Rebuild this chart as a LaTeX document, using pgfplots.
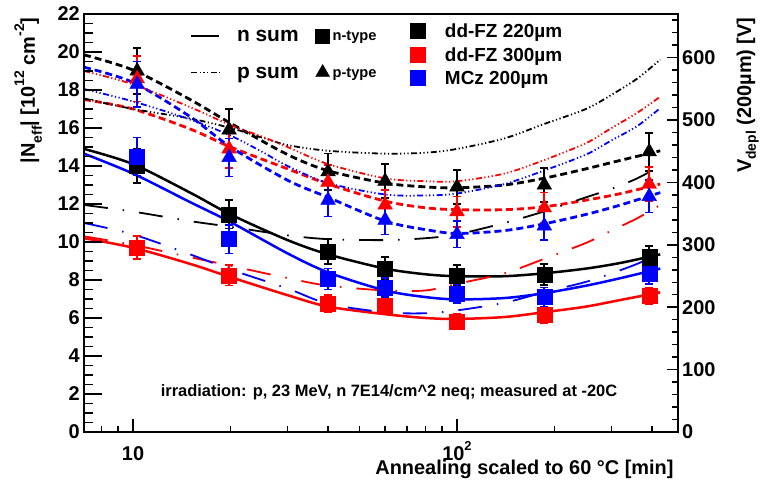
\documentclass[border=0pt]{standalone}
\usepackage{fontspec}
\setmainfont{Liberation Sans}
\usepackage{pgfplots}
\pgfplotsset{compat=1.18}
\newcommand{\sz}[1]{\fontsize{#1}{#1}\selectfont}
\definecolor{rred}{RGB}{255,0,0}
\definecolor{rblue}{RGB}{0,0,255}
\pgfplotsset{
 mynfit/.style={line width=2.5bp, smooth, forget plot},
 mypfit/.style={line width=2.8bp, smooth, forget plot, dash pattern=on 7bp off 4bp},
 mynsum/.style={line width=1.8bp, smooth, forget plot, dash pattern=on 24bp off 15bp on 1.5bp off 15bp},
 mypsum/.style={line width=1.8bp, smooth, forget plot, dash pattern=on 6bp off 2.5bp on 1.2bp off 2.5bp on 1.2bp off 2.5bp on 1.2bp off 2.5bp},
 mydat/.style={only marks, forget plot, mark options={solid},
   error bars/y dir=both, error bars/y explicit,
   error bars/error bar style={line width=1.8bp, solid},
   error bars/error mark options={rotate=90, mark size=4bp, line width=1.6bp}},
 mysq/.style={mark=square*, mark size=7.5bp},
 mytr/.style={mark=triangle*, mark size=8.5bp},
}
\begin{document}
\begin{tikzpicture}
\useasboundingbox (-84bp,-59bp) rectangle (677bp,432bp);
% ---------------- main axis with data ----------------
\begin{axis}[scale only axis, width=594bp, height=418bp, at={(0,0)}, anchor=south west,
  xmode=log, xmin=7.06, xmax=481,
  tick label style={font=\sz{20}\bfseries},
  axis line style={line width=1.6bp}, tick style={line width=1.5bp, black},
  ymin=0, ymax=22, ytick=\empty,
  xtick={10,100}, xticklabels={10,{10\raisebox{0.5em}{\sz{13}2}}},
  minor xtick={8,9,20,30,40,50,60,70,80,90,200,300,400},
  xtick pos=left, tick align=inside,
  major tick length=12.5bp, minor tick length=6.5bp,
  xticklabel style={inner sep=0pt, text height=14.3bp, anchor=north, yshift=-14bp},
  xlabel={Annealing scaled to 60 °C [min]},
  xlabel style={at={(axis description cs:0.9983,-0.1005)}, anchor=base east, font=\sz{20}\bfseries},
]
% n-type fits (solid)
\addplot[mynfit, black] coordinates {(7.06,14.9) (10,14.1) (15,12.6) (20,11.45) (30,10.1) (40,9.35) (60,8.6) (80,8.3) (100,8.2) (140,8.2) (185,8.35) (250,8.6) (320,8.9) (424,9.35)};
\addplot[mynfit, rred] coordinates {(7.06,10.2) (10,9.7) (15,8.85) (20,8.15) (30,7.2) (40,6.6) (60,6.2) (80,6.0) (100,5.95) (140,6.05) (185,6.3) (250,6.6) (320,6.95) (424,7.35)};
\addplot[mynfit, rblue] coordinates {(7.06,14.65) (10,13.6) (15,12.1) (20,11.05) (30,9.4) (40,8.4) (60,7.45) (80,7.1) (100,6.98) (140,7.05) (185,7.3) (250,7.7) (320,8.1) (424,8.6)};
% p-type fits (dashed)
\addplot[mypfit, black] coordinates {(7.06,19.85) (10,19.05) (15,17.5) (20,16.25) (30,14.6) (40,13.75) (60,13.1) (80,12.9) (100,12.85) (140,13.0) (185,13.35) (250,13.85) (320,14.3) (424,14.8)};
\addplot[mypfit, rred] coordinates {(7.06,17.5) (10,17.0) (15,15.95) (20,15.0) (30,13.85) (40,13.05) (60,12.15) (80,11.8) (100,11.7) (140,11.7) (185,11.85) (250,12.2) (320,12.55) (424,13.05)};
\addplot[mypfit, rblue] coordinates {(7.06,19.2) (10,18.4) (15,16.6) (20,15.0) (30,13.25) (40,12.35) (60,11.1) (80,10.65) (100,10.45) (140,10.6) (185,10.95) (250,11.45) (320,11.95) (424,12.6)};
% n sum (long dash dot)
\addplot[mynsum, black] coordinates {(7.06,11.95) (10,11.6) (15,11.1) (20,10.8) (30,10.35) (40,10.15) (60,10.1) (80,10.2) (100,10.4) (140,11.0) (185,11.6) (250,12.35) (300,12.8) (360,13.35) (424,14.0)};
\addplot[mynsum, rred] coordinates {(7.06,10.3) (10,9.85) (15,9.2) (20,8.75) (30,8.1) (40,7.7) (60,7.45) (80,7.45) (100,7.8) (140,8.35) (185,9.1) (250,9.95) (300,10.6) (360,11.25) (424,11.95)};
\addplot[mynsum, rblue] coordinates {(7.06,11.0) (10,10.4) (15,9.35) (20,8.55) (30,7.55) (40,6.75) (60,6.3) (80,6.25) (100,6.4) (140,6.8) (185,7.35) (250,7.9) (300,8.35) (360,8.85) (424,9.4)};
% p sum (dash dot dot dot)
\addplot[mypsum, black] coordinates {(7.06,17.55) (10,17.0) (15,16.5) (20,16.0) (25,15.5) (30,15.1) (40,14.8) (60,14.65) (80,14.7) (100,14.9) (140,15.45) (185,16.2) (250,17.0) (300,17.75) (360,18.6) (424,19.6)};
\addplot[mypsum, rred] coordinates {(7.06,19.0) (10,18.3) (15,17.1) (20,16.15) (25,15.55) (30,15.0) (40,14.1) (60,13.35) (80,13.2) (100,13.2) (140,13.6) (185,14.3) (250,15.2) (300,16.0) (360,16.8) (424,17.65)};
\addplot[mypsum, rblue] coordinates {(7.06,18.05) (10,17.4) (15,16.45) (20,15.6) (25,14.75) (30,14.0) (40,13.1) (60,12.5) (80,12.45) (100,12.55) (140,13.05) (185,13.75) (250,14.6) (300,15.35) (360,16.1) (424,17.05)};
% data: n-type squares
\addplot[mydat, mysq, black] coordinates {(10.3,14.0) +- (0,0.9) (19.8,11.45) +- (0,0.75) (40,9.5) +- (0,0.65) (60,8.6) +- (0,0.6) (100,8.25) +- (0,0.55) (186,8.3) +- (0,0.55) (392,9.2) +- (0,0.6)};
\addplot[mydat, mysq, rred] coordinates {(10.3,9.7) +- (0,0.6) (19.8,8.25) +- (0,0.55) (40,6.75) +- (0,0.45) (60,6.65) +- (0,0.45) (100,5.8) +- (0,0.4) (186,6.15) +- (0,0.4) (392,7.15) +- (0,0.45)};
\addplot[mydat, mysq, rblue] coordinates {(10.3,14.5) +- (0,1.0) (19.8,10.15) +- (0,0.75) (40,8.05) +- (0,0.55) (60,7.6) +- (0,0.5) (100,7.3) +- (0,0.5) (186,7.1) +- (0,0.5) (392,8.35) +- (0,0.55)};
% data: p-type triangles
\addplot[mydat, mytr, black] coordinates {(10.3,19.0) +- (0,1.2) (19.8,15.9) +- (0,1.1) (40,13.7) +- (0,0.95) (60,13.2) +- (0,0.9) (100,12.9) +- (0,0.9) (186,13.0) +- (0,0.9) (392,14.75) +- (0,1.0)};
\addplot[mydat, mytr, rred] coordinates {(10.3,18.6) +- (0,1.2) (19.8,14.9) +- (0,1.0) (40,13.15) +- (0,0.9) (60,11.95) +- (0,0.8) (100,11.6) +- (0,0.8) (186,11.8) +- (0,0.8) (392,13.05) +- (0,0.9)};
\addplot[mydat, mytr, rblue] coordinates {(10.3,18.3) +- (0,1.2) (19.8,14.45) +- (0,1.0) (40,12.2) +- (0,0.85) (60,11.15) +- (0,0.75) (100,10.4) +- (0,0.7) (186,10.85) +- (0,0.75) (392,12.4) +- (0,0.85)};
\node[anchor=base, font=\sz{16.5}\bfseries] at (axis description cs:0.5135,0.0861)
  {irradiation: p, 23 MeV, n 7E14/cm\textasciicircum2 neq; measured at -20C};
\end{axis}
% ---------------- left y axis + style legend ----------------
\begin{axis}[scale only axis, width=594bp, height=418bp, at={(0,0)}, anchor=south west,
  xmin=7.06, xmax=481, hide x axis, axis y line*=left,
  tick label style={font=\sz{20}\bfseries},
  axis line style={line width=1.6bp}, tick style={line width=1.5bp, black},
  ymin=0, ymax=22, ytick={0,2,...,22}, minor ytick={0.5,1,...,21.5},
  yticklabels={0,2,4,6,8,10,12,14,16,18,20,22},
  tick align=inside, major tick length=18bp, minor tick length=9bp,
  yticklabel style={inner sep=0pt, xshift=-4bp},
  ylabel={|N\raisebox{-0.35em}{\sz{14}eff}| [10\raisebox{0.55em}{\sz{14}12} cm\raisebox{0.55em}{\sz{14}-2}]},
  ylabel style={at={(axis description cs:-0.0825,1)}, anchor=base east, font=\sz{20}\bfseries},
  legend columns=2, legend cell align=left,
  legend style={at={(axis description cs:0.1785,0.9641)}, anchor=north west, draw=none, fill=none,
    inner sep=0pt, outer sep=0pt, row sep=21.5bp,
    nodes={inner sep=0pt, text depth=0pt, font=\sz{21}\bfseries},
    /tikz/column 1/.style={column sep=15bp},
    /tikz/column 2/.style={column sep=17bp},
    /tikz/column 3/.style={column sep=3bp}},
]
\addlegendimage{legend image code/.code={\draw[black, line width=2.2bp] (0bp,0bp) -- (28bp,0bp);}}
\addlegendentry{n sum}
\addlegendimage{legend image code/.code={\pgfsetplotmarksize{7bp}\pgfsetcolor{black}\pgfuseplotmark{square*}}}
\addlegendentry{\sz{14.7}n-type}
\addlegendimage{legend image code/.code={\draw[black, line width=1.8bp, dash pattern=on 6bp off 2.5bp on 1.2bp off 2.5bp on 1.2bp off 2.5bp on 1.2bp off 2.5bp] (0bp,0bp) -- (30bp,0bp);}}
\addlegendentry{p sum}
\addlegendimage{legend image code/.code={\pgfsetplotmarksize{8bp}\pgfsetcolor{black}\pgfuseplotmark{triangle*}}}
\addlegendentry{\sz{14.7}p-type}
\end{axis}
% ---------------- right y axis (V_depl) + sample legend ----------------
\begin{axis}[scale only axis, width=594bp, height=418bp, at={(0,0)}, anchor=south west,
  xmin=7.06, xmax=481, hide x axis, axis y line*=right,
  tick label style={font=\sz{20}\bfseries},
  axis line style={line width=1.6bp}, tick style={line width=1.5bp, black},
  ymin=0, ymax=670, ytick={0,100,...,600}, minor ytick={20,40,...,660},
  yticklabels={0,100,200,300,400,500,600},
  tick align=inside, major tick length=11bp, minor tick length=6bp,
  yticklabel style={inner sep=0pt, xshift=4bp},
  ylabel={V\raisebox{-0.25em}{\sz{14}depl} (200µm) [V]},
  ylabel style={at={(axis description cs:1.1229,1)}, anchor=base east, font=\sz{20}\bfseries},
  legend cell align=left,
  legend style={at={(axis description cs:0.5488,0.9785)}, anchor=north west, draw=none, fill=none,
    inner sep=0pt, outer sep=0pt, row sep=8.75bp,
    nodes={inner sep=0pt, text height=13.6bp, text depth=0pt, font=\sz{19}\bfseries},
    /tikz/column 1/.style={column sep=20bp}},
]
\addlegendimage{legend image code/.code={\pgfsetplotmarksize{7.5bp}\pgfsetcolor{black}\pgfuseplotmark{square*}}}
\addlegendentry{dd-FZ 220µm}
\addlegendimage{legend image code/.code={\pgfsetplotmarksize{7.5bp}\pgfsetcolor{rred}\pgfuseplotmark{square*}}}
\addlegendentry{dd-FZ 300µm}
\addlegendimage{legend image code/.code={\pgfsetplotmarksize{7.5bp}\pgfsetcolor{rblue}\pgfuseplotmark{square*}}}
\addlegendentry{MCz 200µm}
\end{axis}
\end{tikzpicture}
\end{document}
